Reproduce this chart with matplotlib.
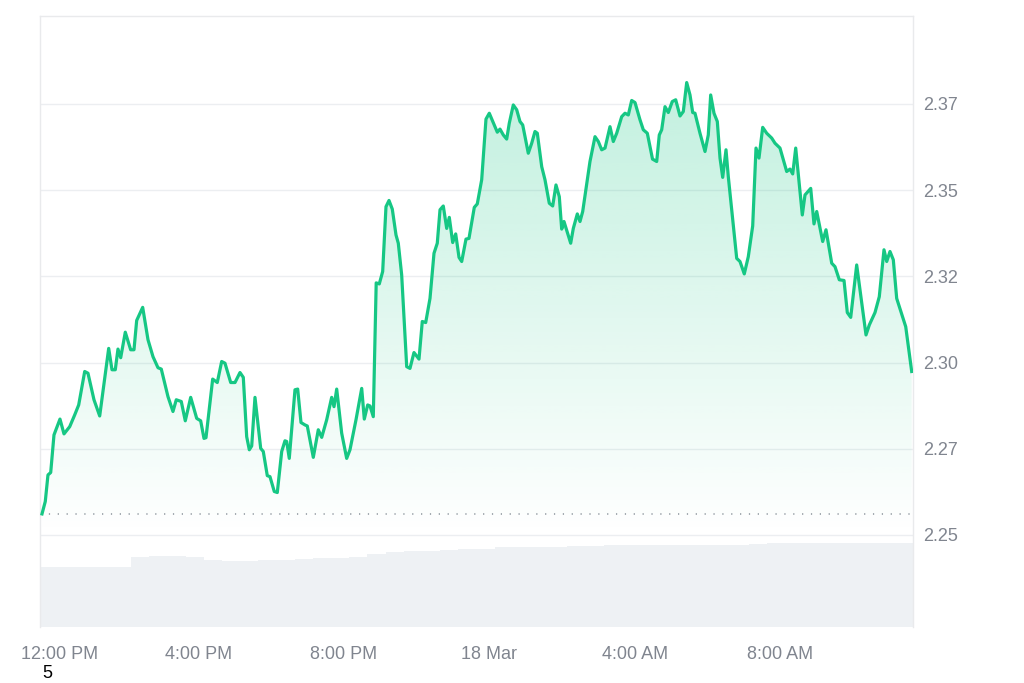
import matplotlib.pyplot as plt
import numpy as np
from matplotlib.patches import Polygon
from matplotlib.transforms import ScaledTranslation

plt.rcParams['font.family'] = ['Liberation Sans', 'DejaVu Sans']

# hours since 12:00 PM (17 Mar)
hours = [-0.288, -0.198, -0.124, -0.049, 0.041, 0.206, 0.316, 0.473, 0.610, 0.720,
         0.885, 0.975, 1.140, 1.297, 1.544, 1.635, 1.725, 1.799, 1.874, 2.000,
         2.148, 2.239, 2.313, 2.478, 2.624, 2.761, 2.898, 2.989, 3.173, 3.310,
         3.401, 3.538, 3.648, 3.797, 3.962, 4.071, 4.162, 4.217, 4.401, 4.527,
         4.648, 4.739, 4.896, 5.014, 5.151, 5.242, 5.335, 5.407, 5.473, 5.563,
         5.720, 5.791, 5.901, 5.975, 6.093, 6.176, 6.297, 6.387, 6.434, 6.505,
         6.662, 6.736, 6.827, 6.937, 7.000, 7.165, 7.302, 7.396, 7.533, 7.670,
         7.734, 7.808, 7.945, 8.082, 8.173, 8.338, 8.495, 8.566, 8.659, 8.723,
         8.813, 8.893, 8.978, 9.071, 9.162, 9.245, 9.335, 9.437, 9.500, 9.593,
         9.731, 9.821, 9.931, 10.069, 10.159, 10.253, 10.371, 10.481, 10.571, 10.646,
         10.736, 10.830, 10.901, 10.995, 11.077, 11.168, 11.242, 11.360, 11.442, 11.588,
         11.670, 11.791, 11.909, 12.000, 12.157, 12.220, 12.294, 12.385, 12.478, 12.549,
         12.659, 12.753, 12.843, 12.918, 13.071, 13.165, 13.255, 13.319, 13.440, 13.530,
         13.648, 13.742, 13.832, 13.923, 13.989, 14.052, 14.236, 14.308, 14.418, 14.492,
         14.566, 14.766, 14.904, 14.995, 15.088, 15.179, 15.316, 15.407, 15.500, 15.637,
         15.728, 15.819, 15.912, 16.003, 16.140, 16.231, 16.341, 16.484, 16.599, 16.670,
         16.736, 16.827, 16.918, 17.027, 17.121, 17.239, 17.330, 17.423, 17.514, 17.588,
         17.651, 17.788, 17.926, 18.016, 18.082, 18.173, 18.264, 18.338, 18.412, 18.503,
         18.566, 18.797, 18.887, 19.005, 19.115, 19.236, 19.327, 19.409, 19.511, 19.621,
         19.758, 19.849, 19.986, 20.170, 20.261, 20.335, 20.418, 20.599, 20.673, 20.830,
         20.920, 20.995, 21.159, 21.250, 21.407, 21.497, 21.615, 21.745, 21.835, 21.929,
         22.093, 22.349, 22.440, 22.596, 22.714, 22.843, 22.918, 23.008, 23.099, 23.192,
         23.440, 23.604]

price = [2.2561, 2.2597, 2.2674, 2.2681, 2.2790, 2.2836, 2.2793, 2.2814, 2.2848, 2.2877,
         2.2974, 2.2969, 2.2892, 2.2845, 2.3041, 2.2979, 2.2979, 2.3039, 2.3014, 2.3088,
         2.3037, 2.3037, 2.3122, 2.3160, 2.3066, 2.3017, 2.2985, 2.2981, 2.2901, 2.2858,
         2.2892, 2.2887, 2.2831, 2.2899, 2.2838, 2.2831, 2.2780, 2.2782, 2.2952, 2.2942,
         2.3003, 2.2998, 2.2942, 2.2942, 2.2971, 2.2957, 2.2785, 2.2747, 2.2758, 2.2899,
         2.2751, 2.2742, 2.2672, 2.2669, 2.2626, 2.2623, 2.2742, 2.2773, 2.2771, 2.2722,
         2.2921, 2.2923, 2.2826, 2.2819, 2.2816, 2.2725, 2.2805, 2.2783, 2.2834, 2.2899,
         2.2872, 2.2923, 2.2795, 2.2722, 2.2747, 2.2834, 2.2925, 2.2836, 2.2877, 2.2874,
         2.2843, 2.3231, 2.3228, 2.3264, 2.3452, 2.3470, 2.3445, 2.3370, 2.3346, 2.3254,
         2.2988, 2.2983, 2.3029, 2.3010, 2.3119, 2.3116, 2.3186, 2.3317, 2.3346, 2.3443,
         2.3454, 2.3389, 2.3421, 2.3348, 2.3373, 2.3305, 2.3293, 2.3358, 2.3360, 2.3450,
         2.3460, 2.3530, 2.3706, 2.3723, 2.3684, 2.3668, 2.3677, 2.3660, 2.3648, 2.3694,
         2.3747, 2.3733, 2.3699, 2.3689, 2.3607, 2.3636, 2.3670, 2.3665, 2.3568, 2.3530,
         2.3462, 2.3454, 2.3515, 2.3481, 2.3387, 2.3409, 2.3346, 2.3389, 2.3431, 2.3409,
         2.3438, 2.3583, 2.3655, 2.3641, 2.3617, 2.3622, 2.3684, 2.3641, 2.3665, 2.3713,
         2.3723, 2.3718, 2.3760, 2.3754, 2.3704, 2.3675, 2.3665, 2.3590, 2.3583, 2.3660,
         2.3675, 2.3742, 2.3725, 2.3757, 2.3762, 2.3715, 2.3728, 2.3812, 2.3776, 2.3725,
         2.3723, 2.3665, 2.3612, 2.3660, 2.3776, 2.3723, 2.3699, 2.3593, 2.3537, 2.3617,
         2.3539, 2.3302, 2.3293, 2.3257, 2.3307, 2.3396, 2.3622, 2.3593, 2.3682, 2.3665,
         2.3651, 2.3636, 2.3622, 2.3554, 2.3561, 2.3547, 2.3622, 2.3428, 2.3486, 2.3505,
         2.3402, 2.3438, 2.3351, 2.3385, 2.3288, 2.3278, 2.3240, 2.3238, 2.3145, 2.3131,
         2.3283, 2.3080, 2.3109, 2.3145, 2.3191, 2.3327, 2.3293, 2.3322, 2.3298, 2.3186,
         2.3104, 2.2974]

open_price = 2.2561

# half-hour volume (M)
volume = [60.3, 60, 60, 60, 60.5, 70, 71, 71, 70.5, 67,
          66.5, 66.5, 67, 67.5, 68, 69, 69.5, 70, 73, 75.5,
          76, 76.5, 77, 78, 78.5, 80, 80, 80.5, 80.5, 81,
          81.5, 82, 82, 82, 82, 82, 82, 82, 82.5, 83.5,
          84, 84, 84, 84, 84, 84, 84, 84]

y_ticks = [2.25, 2.275, 2.30, 2.325, 2.35, 2.375]
y_labels = ['2.25', '2.27', '2.30', '2.32', '2.35', '2.37']
x_ticks = [0, 4, 8, 12, 16, 20]
x_labels = ['12:00 PM', '4:00 PM', '8:00 PM', '18 Mar', '4:00 AM', '8:00 AM']

green = '#16c784'
grey_txt = '#80858f'
x0, x1 = -0.343, 23.64
y0, y1 = 2.2233, 2.4005

fig = plt.figure(figsize=(10.24, 6.83), dpi=100)
rect = [40/1024, 56/683, 873/1024, 611/683]

# volume underneath
axv = fig.add_axes(rect, zorder=0)
edges = np.linspace(x0, x1, len(volume) + 1)
axv.bar(edges[:-1], volume, width=edges[1] - edges[0], align='edge',
        color='#eef1f4', linewidth=0)
axv.set_xlim(x0, x1)
axv.set_ylim(0, max(volume) * 611 / 84)
axv.axis('off')

ax = fig.add_axes(rect, zorder=1)
ax.patch.set_alpha(0)

for t in y_ticks:
    ax.axhline(t, color='#eceef1', lw=1, zorder=0)

ax.axhline(open_price, color='#8d939c', lw=1.1, ls=(0, (0.8, 5)), zorder=1)

# gradient fill below the line
poly = Polygon(np.column_stack([np.r_[hours, hours[-1], hours[0]],
                                np.r_[price, 2.25, 2.25]]),
               closed=True, facecolor='none', edgecolor='none')
ax.add_patch(poly)
grad = np.zeros((256, 1, 4))
grad[:, 0, :3] = [22/255, 199/255, 132/255]
grad[:, 0, 3] = np.linspace(0.0, 0.27, 256)
im = ax.imshow(grad, extent=[x0, x1, 2.25, 2.385], origin='lower',
               aspect='auto', zorder=1, interpolation='bilinear')
im.set_clip_path(poly)

ax.plot(hours, price, color=green, lw=2.3, solid_joinstyle='round', zorder=3)

ax.set_xlim(x0, x1)
ax.set_ylim(y0, y1)

ax.yaxis.tick_right()
ax.set_yticks(y_ticks)
ax.set_yticklabels(y_labels)
ax.set_xticks(x_ticks)
ax.set_xticklabels(x_labels)
ax.tick_params(axis='y', length=0, pad=7, labelsize=13, labelcolor=grey_txt)
ax.tick_params(axis='x', length=0, pad=14, labelsize=13, labelcolor=grey_txt)
lab0 = ax.get_xticklabels()[0]
lab0.set_transform(lab0.get_transform() + ScaledTranslation(0.07, 0, fig.dpi_scale_trans))

for s in ['top', 'left', 'right']:
    ax.spines[s].set_color('#e9eaec')
    ax.spines[s].set_linewidth(1)
ax.spines['bottom'].set_visible(False)

fig.text(47/1024, 1 - 673/683, '5', ha='center', va='center', fontsize=13, color='black')

fig.savefig('out.png', dpi=100)
